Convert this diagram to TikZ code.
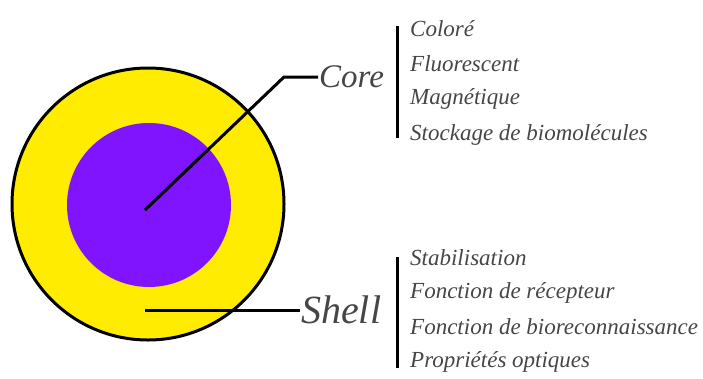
\documentclass[tikz,border=0pt]{standalone}
\usepackage{fontspec}
\setmainfont{Liberation Serif}
\usepackage{xcolor}
\definecolor{npyellow}{RGB}{255,236,0}
\definecolor{nppurple}{RGB}{128,20,255}
\definecolor{nptext}{RGB}{70,70,70}
\tikzset{npline/.style={line width=3pt,color=black},
  nptitle/.style={font=\itshape\fontsize{33}{33}\selectfont,color=nptext,inner sep=1pt,anchor=west},
  npitem/.style={font=\itshape\fontsize{23}{23}\selectfont,color=nptext,inner sep=0pt,anchor=west}}

\begin{document}
\begin{tikzpicture}[x=1pt,y=-1pt]
  \useasboundingbox (0,0) rectangle (703,378);

  \coordinate (o)  at (148,204);
  \coordinate (cc) at (145,210);
  \coordinate (cb) at (284,77);
  \coordinate (sc) at (145,310);

  \filldraw [npyellow,draw=black,line width=3pt] (o) circle (136);
  \fill [nppurple] (149,205) circle (82);

  \node [nptitle] (core)  at (318,77)  {Core};
  \node [nptitle,font=\itshape\fontsize{40}{40}\selectfont] (shell) at (300,310) {Shell};

  \draw [npline] (cc) -- (cb) -- (core.west);
  \draw [npline] (sc) -- (shell.west);

  \coordinate (ct) at (397,26);
  \coordinate (cu) at (397,138);
  \coordinate (st) at (397,257);
  \coordinate (su) at (397,368);
  \draw [npline] (ct) -- (cu);
  \draw [npline] (st) -- (su);

  \node [npitem] (c1) at (410,29)  {Coloré};
  \node [npitem] (c2) at (410,64)  {Fluorescent};
  \node [npitem] (c3) at (410,99)  {Magnétique};
  \node [npitem] (c4) at (410,135) {Stockage de biomolécules};

  \node [npitem] (s1) at (410,258) {Stabilisation};
  \node [npitem] (s2) at (410,293) {Fonction de récepteur};
  \node [npitem] (s3) at (410,327) {Fonction de bioreconnaissance};
  \node [npitem] (s4) at (410,362) {Propriétés optiques};
\end{tikzpicture}
\end{document}
